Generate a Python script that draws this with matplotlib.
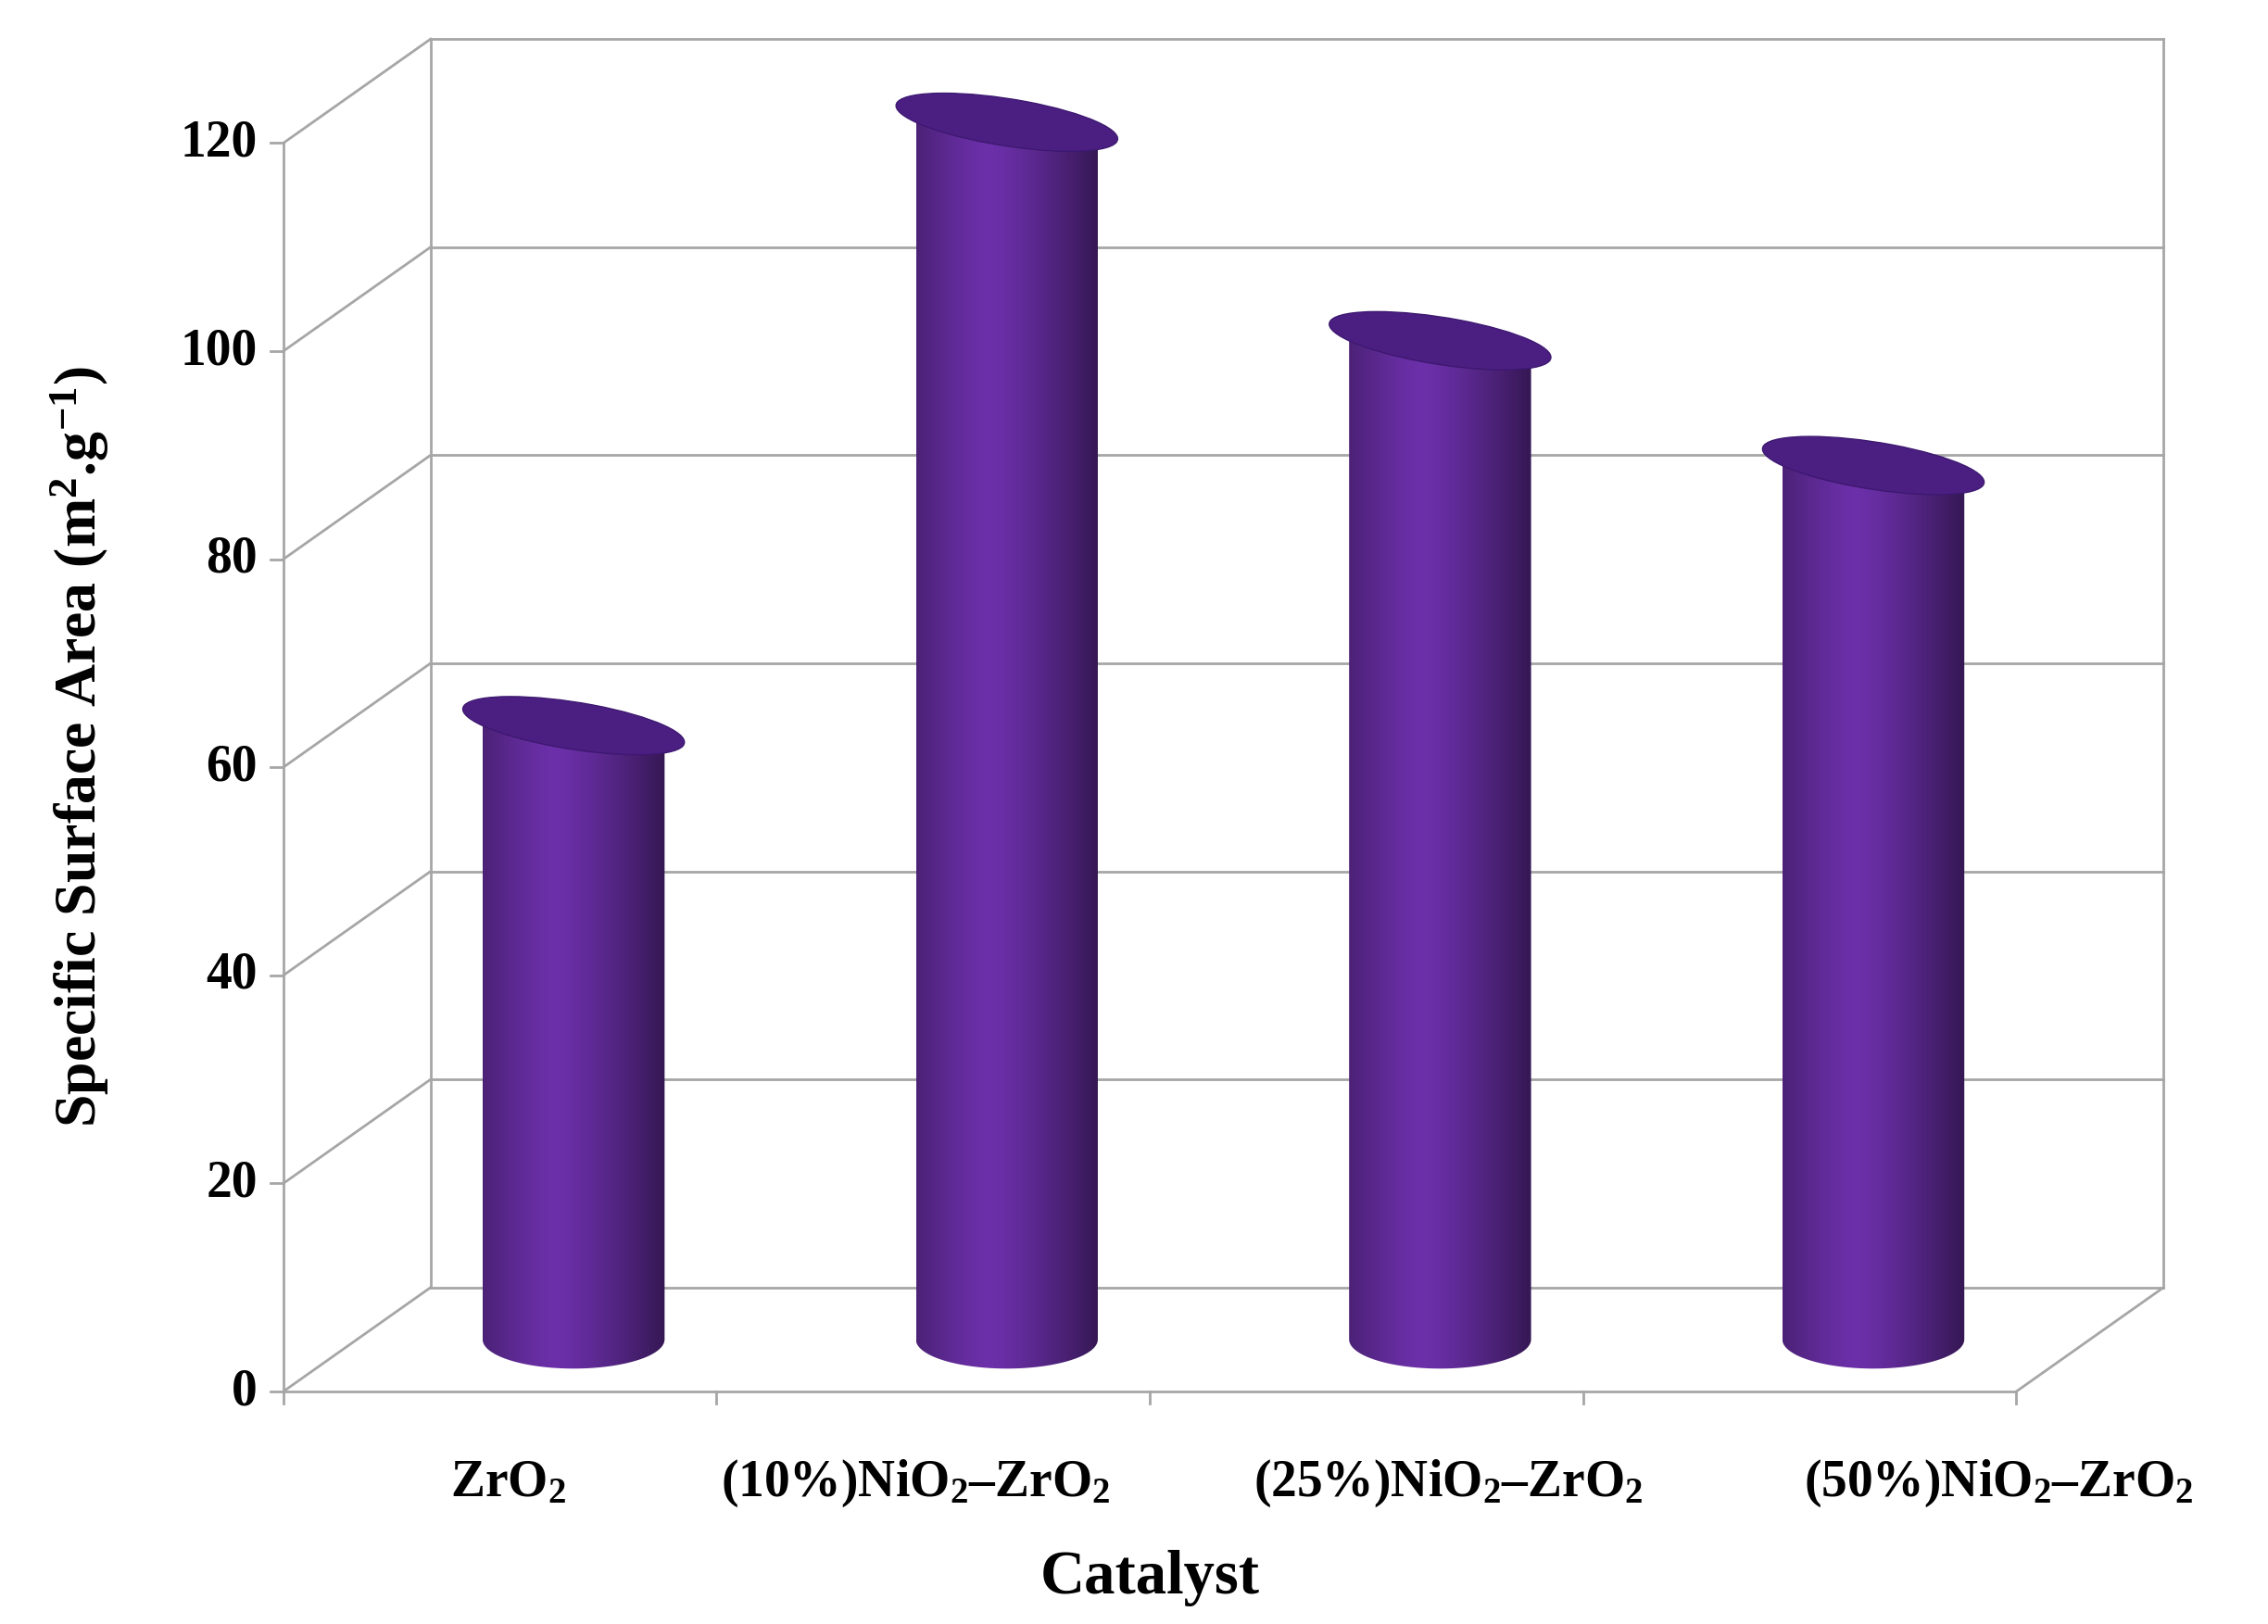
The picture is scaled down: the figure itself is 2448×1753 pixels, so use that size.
import numpy as np
import matplotlib.pyplot as plt
from matplotlib.patches import Ellipse
from matplotlib.path import Path
from matplotlib.patches import PathPatch

plt.rcParams['font.family'] = ['Liberation Serif', 'DejaVu Serif']
plt.rcParams['mathtext.fontset'] = 'custom'
plt.rcParams['mathtext.rm'] = 'Liberation Serif:bold'
plt.rcParams['mathtext.default'] = 'rm'

catalysts = [r'ZrO$_2$', r'(10%)NiO$_2$–ZrO$_2$', r'(25%)NiO$_2$–ZrO$_2$', r'(50%)NiO$_2$–ZrO$_2$']
label_x = [0.52, 1.46, 2.69, 3.96]
surface_area = [59, 117, 96, 84]
yticks = [0, 20, 40, 60, 80, 100, 120]

DX, DY = 0.34, 10      # depth offset of the back wall
BW, EH = 0.42, 5.6     # bar width, ellipse height
grid = '#a6a6a6'

fig = plt.figure(figsize=(24.48, 17.53), dpi=100)
ax = fig.add_axes([0, 0, 1, 1])
ax.set_xlim(-0.654, 4.581)
ax.set_ylim(-22.35, 133.75)
ax.axis('off')

# back wall grid and diagonals
for v in yticks:
    ax.plot([DX, 4 + DX], [v + DY, v + DY], color=grid, lw=2)
    ax.plot([0, DX], [v, v + DY], color=grid, lw=2)
    ax.plot([-0.03, 0], [v, v], color=grid, lw=2)
    ax.text(-0.06, v, str(v), ha='right', va='center', fontsize=40, fontweight='bold')
ax.plot([DX, DX], [DY, 120 + DY], color=grid, lw=2)
ax.plot([4 + DX, 4 + DX], [DY, 120 + DY], color=grid, lw=2)
ax.plot([0, 0], [0, 120], color=grid, lw=2)
ax.plot([0, 4], [0, 0], color=grid, lw=2)
ax.plot([4, 4 + DX], [0, DY], color=grid, lw=2)
for i in range(5):
    ax.plot([i, i], [0, -1.2], color=grid, lw=2)

# cylinders (placed on the mid-depth plane)
grad = np.linspace(0, 1, 256)
shade = 1 - 0.55 * np.abs(grad - 0.4) ** 1.3 * 1.8
light = np.array([0x6c, 0x30, 0xaa]) / 255
cmap_img = np.clip(light[None, :] * shade[:, None], 0, 1)[None, :, :]
for i, val in enumerate(surface_area):
    cx = i + 0.5 + DX / 2
    base = DY / 2
    top = val + DY / 2
    x0, x1 = cx - BW / 2, cx + BW / 2
    t = np.linspace(0, np.pi, 60)
    bottom = list(zip(cx - BW / 2 * np.cos(t), base - EH / 2 * np.sin(t)))
    verts = [(x0, top)] + bottom + [(x1, top), (x0, top)]
    patch = PathPatch(Path(verts), facecolor='none', edgecolor='none')
    ax.add_patch(patch)
    im = ax.imshow(cmap_img, extent=[x0, x1, base - EH, top], aspect='auto',
                   interpolation='bilinear', zorder=3)
    im.set_clip_path(patch)
    ax.add_patch(Ellipse((cx, top), BW, EH, angle=3, facecolor='#4b1f82',
                         edgecolor='#3d1870', lw=1, zorder=4))

for x, lab in zip(label_x, catalysts):
    ax.text(x, -8.8, lab, ha='center', va='center', fontsize=40, fontweight='bold')
ax.text(2.0, -17.9, 'Catalyst', ha='center', va='center', fontsize=48, fontweight='bold')
ax.text(-0.47, 62, r'Specific Surface Area (m$^2$.g$^{-1}$)', rotation=90,
        ha='center', va='center', fontsize=46, fontweight='bold')

fig.savefig('out.png', dpi=100)
